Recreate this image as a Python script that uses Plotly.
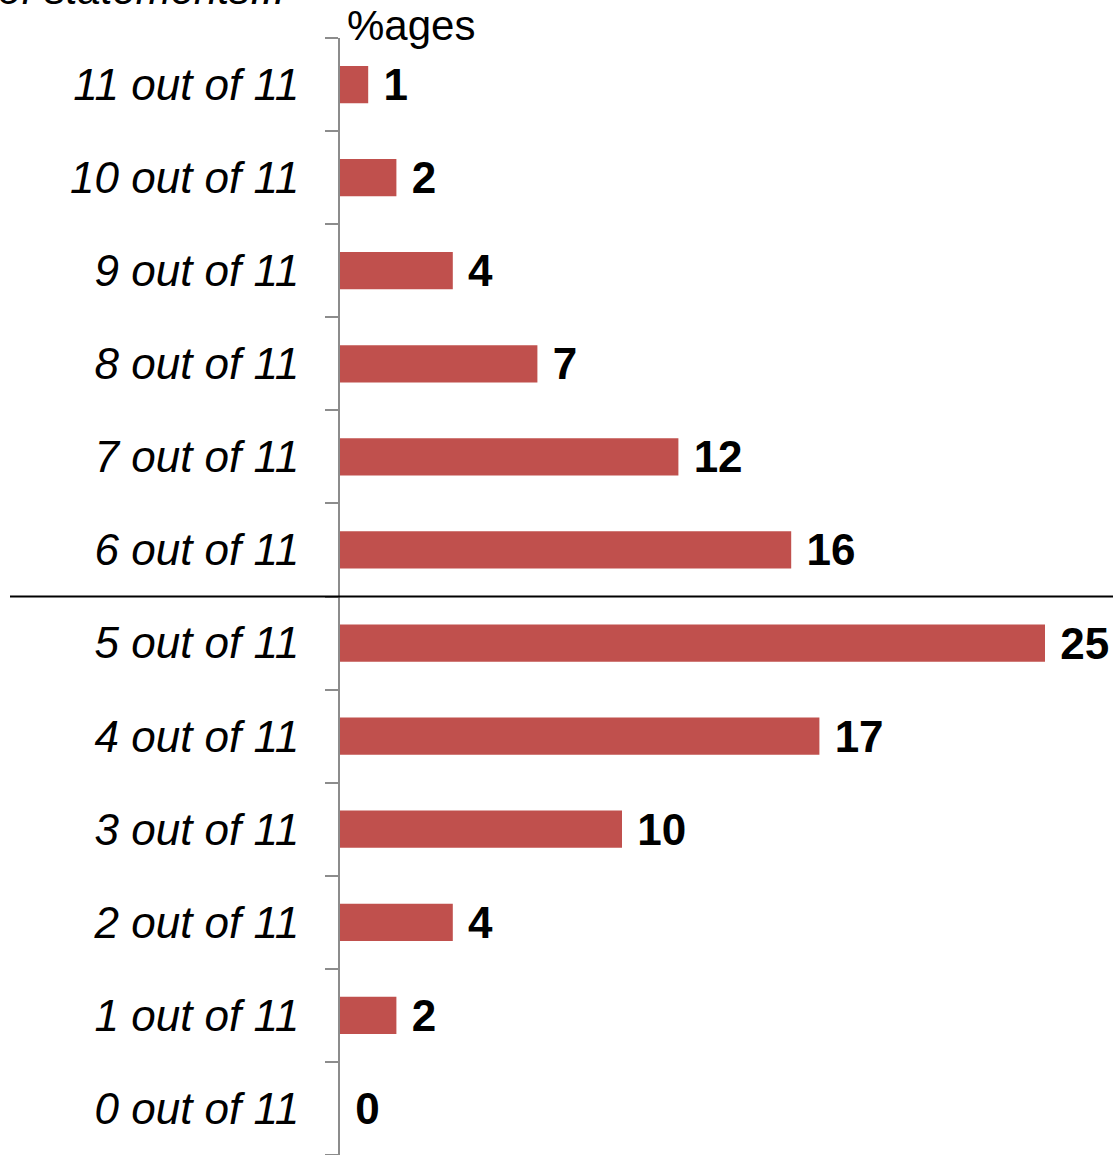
import plotly.graph_objects as go

# Number of statements agreed with (bottom to top) and share of respondents
categories = ["0 out of 11", "1 out of 11", "2 out of 11", "3 out of 11",
              "4 out of 11", "5 out of 11", "6 out of 11", "7 out of 11",
              "8 out of 11", "9 out of 11", "10 out of 11", "11 out of 11"]
percentages = [0, 2, 4, 10, 17, 25, 16, 12, 7, 4, 2, 1]

FONT = "Liberation Sans, Arial, sans-serif"
W, H = 1113, 1155
L, T = 340, 38
plot_w = W - L

fig = go.Figure(go.Bar(
    x=percentages,
    y=categories,
    orientation="h",
    marker=dict(color="#C0504D", line=dict(width=0)),
    texttemplate=" %{x}",
    textposition="outside",
    constraintext="none",
    cliponaxis=False,
    textfont=dict(family=FONT, size=44, color="#000000", weight="bold"),
))

fig.update_layout(
    width=W, height=H,
    margin=dict(l=L, r=0, t=T, b=0),
    paper_bgcolor="white", plot_bgcolor="white",
    bargap=0.6,
    showlegend=False,
    xaxis=dict(visible=False, range=[0, plot_w / 28.2]),
    yaxis=dict(
        type="category",
        categoryorder="array", categoryarray=categories,
        range=[-0.5, 11.5],
        showgrid=False, zeroline=False,
        showline=True, linecolor="#8c8c8c", linewidth=2,
        ticks="outside", tickson="boundaries", ticklen=13,
        tickcolor="#8c8c8c", tickwidth=2,
        ticklabelstandoff=30,
        tickfont=dict(family=FONT, size=44, color="#000000", style="italic"),
    ),
    shapes=[dict(
        type="line", xref="paper", yref="y",
        x0=(10 - L) / plot_w, x1=1, y0=5.5, y1=5.5,
        line=dict(color="#000000", width=2),
    )],
    annotations=[
        dict(text="%ages", xref="paper", yref="paper",
             x=(345 - L) / plot_w, y=1 + (T - 25) / (H - T),
             xanchor="left", yanchor="middle", showarrow=False,
             font=dict(family=FONT, size=42, color="#000000")),
        dict(text="of statements...", xref="paper", yref="paper",
             x=(-4 - L) / plot_w, y=1 + (T + 10) / (H - T),
             xanchor="left", yanchor="middle", showarrow=False,
             font=dict(family=FONT, size=42, color="#000000", style="italic")),
    ],
)

fig.write_html("out.html")
